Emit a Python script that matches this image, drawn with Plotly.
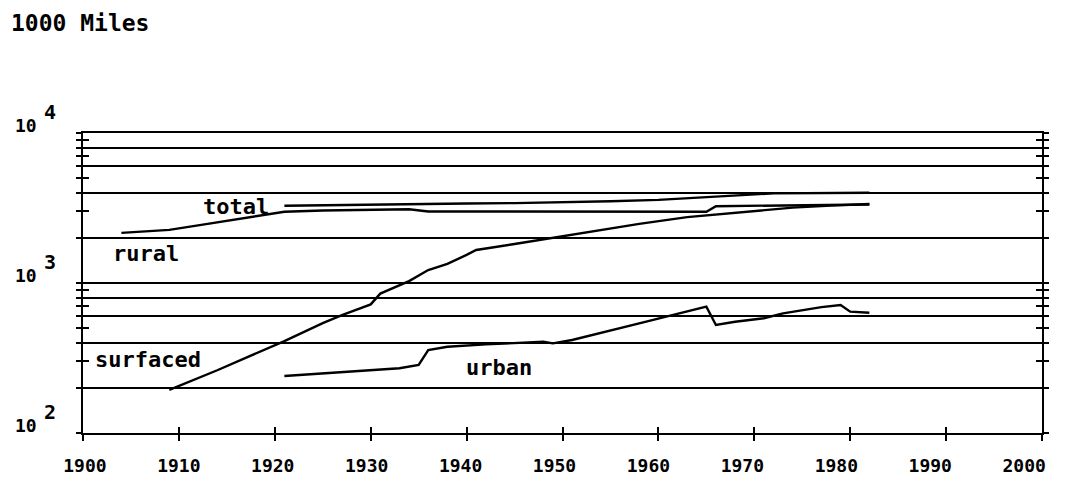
import plotly.graph_objects as go

# values (thousand miles)
total_years = [1921, 1925, 1930, 1935, 1940, 1945, 1950, 1955, 1960, 1965, 1970, 1972, 1982]
total_miles = [3270, 3300, 3330, 3360, 3390, 3410, 3450, 3510, 3580, 3720, 3890, 3960, 4000]

rural_years = [1904, 1909, 1912, 1916, 1919, 1921, 1925, 1930, 1934, 1936, 1945, 1955, 1965, 1966, 1975, 1982]
rural_miles = [2160, 2260, 2420, 2670, 2870, 2985, 3040, 3080, 3100, 3000, 2995, 2990, 2985, 3250, 3300, 3340]

surfaced_years = [1909, 1914, 1921, 1925, 1927, 1930, 1931, 1934, 1936, 1938, 1940, 1941,
                  1945, 1949, 1953, 1958, 1963, 1968, 1974, 1978, 1982]
surfaced_miles = [194, 262, 410, 540, 610, 720, 850, 1030, 1220, 1340, 1540, 1660,
                  1820, 2000, 2200, 2480, 2750, 2940, 3180, 3280, 3360]

urban_years = [1921, 1933, 1935, 1936, 1938, 1942, 1948, 1949, 1951, 1953, 1958, 1965,
               1966, 1968, 1971, 1973, 1977, 1979, 1980, 1982]
urban_miles = [240, 270, 284, 357, 376, 390, 406, 396, 417, 450, 538, 695,
               525, 552, 582, 628, 690, 713, 644, 634]

x_ticks = list(range(1900, 2001, 10))
x_labels = ["<b>%d</b>" % t for t in x_ticks]
y_ticks = [100, 200, 300, 400, 500, 600, 700, 800, 900,
           1000, 2000, 3000, 4000, 5000, 6000, 7000, 8000, 9000, 10000]
y_grid = [200, 400, 600, 800, 1000, 2000, 4000, 6000, 8000, 10000]
y_exps = [2, 3, 4]

# series labels: (text, year, log10 value)
series_labels = [("total", 1916.0, 3.507), ("rural", 1906.6, 3.20),
                 ("surfaced", 1906.8, 2.487), ("urban", 1943.4, 2.44)]

FONT = "DejaVu Sans Mono"
line_style = dict(color="black", width=2.4)

fig = go.Figure()
for yrs, vals in [(total_years, total_miles), (rural_years, rural_miles),
                  (surfaced_years, surfaced_miles), (urban_years, urban_miles)]:
    fig.add_trace(go.Scatter(x=yrs, y=vals, mode="lines", line=line_style,
                             showlegend=False, hoverinfo="skip"))

# empty traces so the overlay axes get drawn
fig.add_trace(go.Scatter(x=[None], y=[None], xaxis="x2", yaxis="y2", showlegend=False))
fig.add_trace(go.Scatter(x=[None], y=[None], xaxis="x2", yaxis="y3", showlegend=False))
fig.add_trace(go.Scatter(x=[None], y=[None], xaxis="x3", yaxis="y2", showlegend=False))

tick_common = dict(tickcolor="black", tickwidth=2, ticklen=6)
plain = dict(showline=False, showgrid=False, zeroline=False, automargin=False)

# the original's year labels sit on a slightly compressed scale (drift left toward 2000)
label_range = [1899.8, 2001.9]

# page body has an 8px margin, so the figure is 8px smaller than the window
fig.update_layout(
    width=1067, height=476,
    margin=dict(l=75, r=33, t=125, b=51),
    paper_bgcolor="white", plot_bgcolor="white",
    font=dict(family=FONT, color="black"),
    xaxis=dict(range=[1900, 2000], tickvals=x_ticks, ticks="outside", **tick_common,
               showticklabels=False, showline=True, linecolor="black", linewidth=2,
               mirror=True, showgrid=False, zeroline=False, automargin=False),
    xaxis2=dict(range=[1900, 2000], overlaying="x", anchor="y2", tickvals=x_ticks,
                ticks="inside", **tick_common, showticklabels=False, **plain),
    xaxis3=dict(range=label_range, overlaying="x", anchor="y2", tickvals=x_ticks,
                ticktext=x_labels, ticks="", ticklabelstandoff=20,
                tickfont=dict(family=FONT, size=18, color="black"), **plain),
    yaxis=dict(type="log", range=[2, 4], tickvals=y_grid, ticks="", showticklabels=False,
               showgrid=True, gridcolor="black", gridwidth=2, showline=True,
               linecolor="black", linewidth=2, mirror=True, zeroline=False, automargin=False),
    yaxis2=dict(type="log", range=[2, 4], overlaying="y", tickvals=y_ticks, ticks="outside",
                **tick_common, mirror="ticks", showticklabels=False, **plain),
    yaxis3=dict(type="log", range=[2, 4], overlaying="y", tickvals=y_ticks, ticks="inside",
                **tick_common, mirror="ticks", showticklabels=False, **plain),
)

# y labels as 10 with exponent
for e in y_exps:
    fig.add_annotation(x=-0.0594, y=e, xref="paper", yref="y", text="<b>10</b>",
                       xanchor="center", yanchor="middle",
                       showarrow=False, yshift=8, font=dict(size=18))
    fig.add_annotation(x=-0.034, y=e, xref="paper", yref="y", text="<b>%d</b>" % e,
                       xanchor="center", yanchor="middle",
                       showarrow=False, yshift=21, font=dict(size=20))

for txt, yr, lv in series_labels:
    fig.add_annotation(x=yr, y=lv, text="<b>%s</b>" % txt, showarrow=False,
                       xanchor="center", yanchor="middle", font=dict(size=22))

fig.add_annotation(x=-0.077, y=1.367, xref="paper", yref="paper", xanchor="left",
                   yanchor="middle", text="<b>1000 Miles</b>", showarrow=False,
                   font=dict(size=23))

fig.write_html("out.html")
